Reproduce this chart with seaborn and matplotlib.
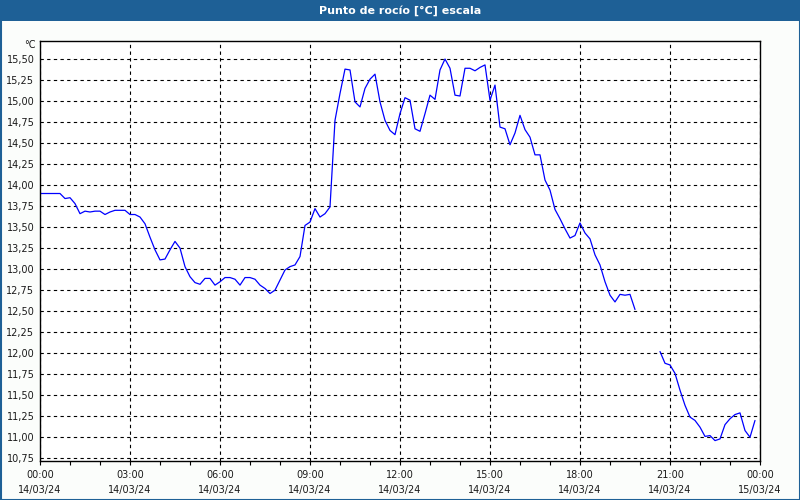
import numpy as np
import pandas as pd
import matplotlib
matplotlib.use("Agg")
import matplotlib.pyplot as plt
from matplotlib.patches import Rectangle
import seaborn as sns

# ---- data (10-minute samples, 14/03/24 00:00 .. 23:50) ----
dew_point = [
    13.90, 13.90, 13.90, 13.90, 13.90, 13.84, 13.85, 13.78, 13.66, 13.69,
    13.68, 13.69, 13.69, 13.65, 13.68, 13.70, 13.70, 13.70, 13.65, 13.65,
    13.62, 13.54, 13.38, 13.23, 13.11, 13.12, 13.23, 13.33, 13.25, 13.03,
    12.91, 12.84, 12.82, 12.89, 12.89, 12.81, 12.85, 12.90, 12.90, 12.88,
    12.81, 12.90, 12.90, 12.88, 12.81, 12.77, 12.71, 12.75, 12.87, 12.99,
    13.03, 13.05, 13.15, 13.52, 13.56, 13.72, 13.62, 13.66, 13.74, 14.77,
    15.09, 15.38, 15.37, 14.99, 14.93, 15.15, 15.26, 15.32, 14.99, 14.77,
    14.65, 14.60, 14.85, 15.04, 15.01, 14.67, 14.64, 14.85, 15.07, 15.02,
    15.37, 15.50, 15.39, 15.07, 15.06, 15.39, 15.39, 15.36, 15.40, 15.43,
    15.01, 15.19, 14.69, 14.67, 14.48, 14.62, 14.83, 14.66, 14.57, 14.36,
    14.36, 14.06, 13.94, 13.71, 13.60, 13.48, 13.37, 13.40, 13.55, 13.43,
    13.36, 13.17, 13.05, 12.85, 12.69, 12.61, 12.70, 12.69, 12.70, 12.52,
    None, None, None, None, 12.02, 11.88, 11.86, 11.76, 11.56, 11.38,
    11.24, 11.20, 11.12, 11.01, 11.02, 10.96, 10.98, 11.15, 11.22, 11.27,
    11.29, 11.08, 11.00, 11.20,
]
sample_minutes = 10
tick_hours = [0, 3, 6, 9, 12, 15, 18, 21, 24]
tick_labels = ["00:00\n14/03/24", "03:00\n14/03/24", "06:00\n14/03/24",
               "09:00\n14/03/24", "12:00\n14/03/24", "15:00\n14/03/24",
               "18:00\n14/03/24", "21:00\n14/03/24", "00:00\n15/03/24"]
y_ticks = [10.75 + 0.25 * k for k in range(20)]
title = "Punto de rocío [°C] escala"
unit = "°C"

# ---- build frame; split into continuous segments at gaps ----
hours = [i * sample_minutes / 60 for i in range(len(dew_point))]
seg, segs = 0, []
prev_none = False
for v in dew_point:
    if v is None:
        prev_none = True
    else:
        if prev_none:
            seg += 1
        prev_none = False
    segs.append(seg)
df = pd.DataFrame({"hour": hours, "value": dew_point, "seg": segs}).dropna()

sns.set_theme(style="white")
plt.rcParams["font.family"] = ["DejaVu Sans"]

BLUE = "#1e6096"
fig = plt.figure(figsize=(8, 5), dpi=100, facecolor="#fbfdfb")
ax = fig.add_axes([40 / 800, 1 - 460.7 / 500, 720 / 800, 420 / 500])
ax.set_facecolor("white")

sns.lineplot(data=df, x="hour", y="value", units="seg", estimator=None,
             color="#0000ff", linewidth=0.9, ax=ax)

ax.set_xlim(0, 24)
ax.set_ylim(10.721, 15.718)
ax.set_xticks(tick_hours)
ax.set_xticklabels(tick_labels)
ax.set_xticks(range(25), minor=True)
ax.set_yticks(y_ticks)
ax.set_yticklabels([f"{t:.2f}".replace(".", ",") for t in y_ticks])
ax.set_xlabel("")
ax.set_ylabel("")

ax.grid(True, which="major", color="black", linestyle=(0, (3, 3)), linewidth=0.8)
ax.tick_params(axis="x", which="both", direction="out", length=3, width=0.8,
               color="black", bottom=True, labelsize=7, labelcolor="#1a1a1a", pad=4)
ax.tick_params(axis="y", which="both", length=0, labelsize=7,
               labelcolor="#1a1a1a", pad=4)
for s in ax.spines.values():
    s.set_color("black")
    s.set_linewidth(1.0)
for lbl in ax.get_xticklabels():
    lbl.set_linespacing(1.6)

ax.text(-0.006, 0.99, unit, transform=ax.transAxes, ha="right", va="center",
        fontsize=7, color="#1a1a1a")

# title bar and border
fig.patches.append(Rectangle((0, 1 - 21 / 500), 1, 21 / 500, transform=fig.transFigure,
                             facecolor=BLUE, edgecolor="none", zorder=0))
fig.patches.append(Rectangle((0.5 / 800, 0.5 / 500), 1 - 1 / 800, 1 - 1 / 500,
                             transform=fig.transFigure, facecolor="none",
                             edgecolor=BLUE, linewidth=1.5, zorder=5))
fig.text(0.5, 1 - 10.5 / 500, title, ha="center", va="center", color="white",
         fontsize=8, fontweight="bold")

fig.savefig("out.png", dpi=100, facecolor=fig.get_facecolor())
